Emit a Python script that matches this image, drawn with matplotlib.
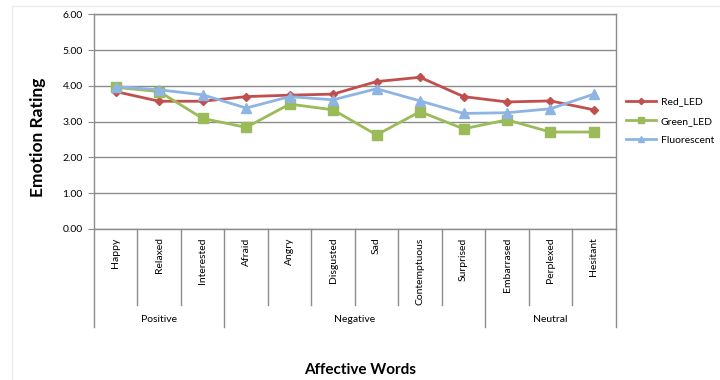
import matplotlib
matplotlib.use("Agg")
import matplotlib.pyplot as plt
import matplotlib.transforms as mtransforms
from matplotlib.lines import Line2D

plt.rcParams['font.family'] = ['Lato', 'DejaVu Sans']

categories = ["Happy", "Relaxed", "Interested", "Afraid", "Angry", "Disgusted", "Sad",
              "Contemptuous", "Surprised", "Embarrased", "Perplexed", "Hesitant"]
groups = ["Positive", "Negative", "Neutral"]
group_sizes = [3, 6, 3]

red_led = [3.84, 3.57, 3.57, 3.70, 3.74, 3.77, 4.12, 4.24, 3.70, 3.55, 3.58, 3.33]
green_led = [3.96, 3.84, 3.09, 2.84, 3.49, 3.33, 2.63, 3.28, 2.80, 3.05, 2.71, 2.71]
fluorescent = [3.98, 3.89, 3.75, 3.38, 3.70, 3.61, 3.92, 3.58, 3.23, 3.25, 3.36, 3.77]
series_names = ["Red_LED", "Green_LED", "Fluorescent"]
yticks = [0, 1, 2, 3, 4, 5, 6]

W, H = 720, 380
fig = plt.figure(figsize=(7.2, 3.8), dpi=100)
left, right, top, bottom = 94, 615.7, 14.3, 229
ax = fig.add_axes([left / W, 1 - bottom / H, (right - left) / W, (bottom - top) / H])

colors = ["#C0504D", "#9BBB59", "#8EB4E3"]
markers = ["D", "s", "^"]
msizes = [4.5, 7, 7]
x = list(range(len(categories)))
for vals, name, c, m, ms in zip([red_led, green_led, fluorescent], series_names, colors, markers, msizes):
    ax.plot(x, vals, color=c, marker=m, markersize=ms, linewidth=2, label=name, zorder=3)

ax.set_xlim(-0.5, len(categories) - 0.5)
ax.set_ylim(0, 6)
ax.set_yticks(yticks)
ax.set_yticklabels([f"{v:.2f}" for v in yticks], fontsize=7.5)
ax.yaxis.grid(True, color="#8c8c8c", linewidth=1)
ax.set_axisbelow(True)
for s in ax.spines.values():
    s.set_color("#8c8c8c")
    s.set_linewidth(1)
ax.tick_params(axis='y', length=4, color="#8c8c8c", pad=4)

ax.set_xticks(x)
ax.set_xticklabels(categories, rotation=90, fontsize=7.5, va='top')
ax.tick_params(axis='x', length=0, pad=6)

# separators below axis
axh = bottom - top
trans = mtransforms.blended_transform_factory(ax.transData, ax.transAxes)
inner_y = -(305 - bottom) / axh
group_y = -(327 - bottom) / axh
label_y = -(319 - bottom) / axh
bounds = [0]
for g in group_sizes:
    bounds.append(bounds[-1] + g)
for i in range(len(categories) + 1):
    yb = group_y if i in bounds else inner_y
    ax.plot([i - 0.5, i - 0.5], [0, yb], transform=trans, color="#8c8c8c",
            linewidth=1, clip_on=False)
for gname, a, b in zip(groups, bounds[:-1], bounds[1:]):
    ax.text((a + b - 1) / 2, label_y, gname, transform=trans, ha='center', va='center',
            fontsize=7.5)

fig.text(38 / W, 1 - 137 / H, "Emotion Rating", rotation=90, ha='center', va='center',
         fontsize=12.5, fontweight='bold')
fig.text(360 / W, 1 - 370 / H, "Affective Words", ha='center', va='center',
         fontsize=11, fontweight='bold')

leg = fig.legend(loc='upper left', bbox_to_anchor=(622 / W, 1 - 93 / H), frameon=False,
                 fontsize=7.5, handlelength=2.9, markerscale=0.7, labelspacing=0.95,
                 handletextpad=0.4, borderaxespad=0)

# faint chart border
fig.add_artist(Line2D([12 / W, 12 / W], [0, 1 - 6 / H], color="#ececec", linewidth=1))
fig.add_artist(Line2D([12 / W, 1], [1 - 6 / H, 1 - 6 / H], color="#ececec", linewidth=1))

fig.savefig("out.png", dpi=100)
